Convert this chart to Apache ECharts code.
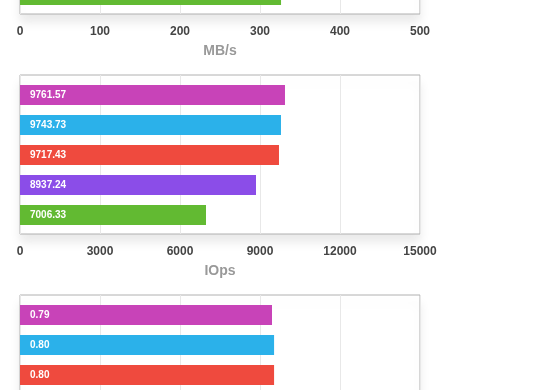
<!DOCTYPE html>
<html><head><meta charset="utf-8">
<script src="https://cdn.jsdelivr.net/npm/echarts@6/dist/echarts.min.js"></script>
<style>
html,body{margin:0;padding:0;overflow:hidden;background:#fff;width:560px;height:390px;}
#c{position:absolute;left:0;top:-220px;width:560px;height:840px;}
</style></head><body>
<div id="c"></div>
<script>
// Systems, top to bottom
const systems = ['S1', 'S2', 'S3', 'S4', 'S5'];
const barColors = ['#C843B8', '#2BB1EA', '#EF4A3E', '#8B4DE8', '#62BA32'];

// Chart 1: throughput (only the bottom bar is visible in the reference)
const mbpsName = 'MB/s';
const mbpsBars = [458, 457, 455, 418, 326.3];
const mbpsLabels = [455.2, 454.4, 453.1, 416.8, 326.4];
const mbpsTicks = [0, 500, 100];

// Chart 2: IOps (bar lengths as drawn, labels as printed)
const iopsName = 'IOps';
const iopsBars = [9937, 9787, 9712, 8850, 6975];
const iopsLabels = [9761.57, 9743.73, 9717.43, 8937.24, 7006.33];
const iopsTicks = [0, 15000, 3000];

// Chart 3: latency (only the top three bars are visible)
const latName = 'ms';
const latBars = [0.7875, 0.794, 0.794, 0.87, 1.1];
const latLabels = [0.79, 0.80, 0.80, 0.87, 1.10];
const latTicks = [0, 1.25, 0.25];

const charts = [
  {name: mbpsName, bars: mbpsBars, labels: mbpsLabels, ticks: mbpsTicks},
  {name: iopsName, bars: iopsBars, labels: iopsLabels, ticks: iopsTicks},
  {name: latName, bars: latBars, labels: latLabels, ticks: latTicks}
];

const FONT = '"Liberation Sans", Helvetica, Arial, sans-serif';
const grid = [], xAxis = [], yAxis = [], series = [];
charts.forEach((c, k) => {
  const top = 75 + 220 * k;
  // outer frame grid
  grid.push({left: 20, width: 400, top: top, height: 159, show: true,
    backgroundColor: '#fff', borderColor: '#b0b0b0', borderWidth: 1,
    shadowColor: 'rgba(0,0,0,0.09)', shadowBlur: 10, shadowOffsetY: 8});
  // inner bar grid
  grid.push({left: 20, width: 400, top: top + 5, height: 150});
  xAxis.push({type: 'value', gridIndex: 2 * k, min: c.ticks[0], max: c.ticks[1], interval: c.ticks[2],
    axisLine: {show: false}, axisTick: {show: false},
    splitLine: {show: true, lineStyle: {color: '#e8e8e8', width: 1}},
    axisLabel: {color: '#444', fontSize: 12, fontWeight: 'bold', fontFamily: FONT, margin: 12,
      formatter: v => String(v)},
    name: c.name, nameLocation: 'middle', nameGap: 30,
    nameTextStyle: {color: '#999', fontSize: 14, fontWeight: 'bold', fontFamily: FONT}});
  xAxis.push({type: 'value', gridIndex: 2 * k + 1, min: c.ticks[0], max: c.ticks[1], show: false});
  yAxis.push({type: 'value', gridIndex: 2 * k, show: false});
  yAxis.push({type: 'category', gridIndex: 2 * k + 1, data: systems, inverse: true, show: false});
  series.push({type: 'bar', xAxisIndex: 2 * k + 1, yAxisIndex: 2 * k + 1, barWidth: 20,
    data: c.bars.map((v, i) => ({value: v, itemStyle: {color: barColors[i]}})),
    label: {show: true, position: 'insideLeft', distance: 10, color: '#fff', fontSize: 10,
      fontWeight: 'bold', fontFamily: FONT, formatter: p => c.labels[p.dataIndex].toFixed(2)},
    silent: true, animation: false});
});

const chart = echarts.init(document.getElementById('c'), null, {renderer: 'canvas'});
chart.setOption({animation: false, grid, xAxis, yAxis, series});
</script>
</body></html>
